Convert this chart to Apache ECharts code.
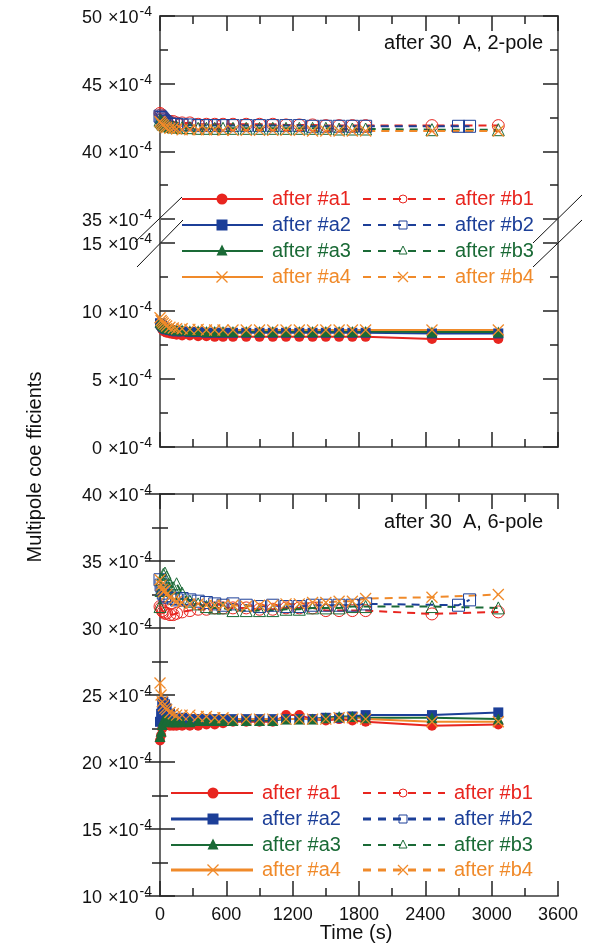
<!DOCTYPE html>
<html>
<head>
<meta charset="utf-8">
<script src="https://cdn.jsdelivr.net/npm/echarts@6/dist/echarts.min.js"></script>
<style>
html,body{margin:0;padding:0;background:#fff;}
#c{width:597px;height:947px;}
</style>
</head>
<body>
<div id="c"></div>
<script>
// ---------- data (values in units of 1e-4) ----------
const seriesNamesA = ['after #a1', 'after #a2', 'after #a3', 'after #a4'];
const seriesNamesB = ['after #b1', 'after #b2', 'after #b3', 'after #b4'];
const xTicks = [0, 600, 1200, 1800, 2400, 3000, 3600];
const panelLabels = ['after 30  A, 2-pole', 'after 30  A, 6-pole'];

const timeS = [0, 10, 20, 30, 45, 60, 90, 120, 150, 200, 270, 345, 420, 495, 570, 660, 780, 900, 1020, 1140, 1260, 1380, 1500, 1620, 1740, 1860, 2460, 3060];
const timeB2 = [0, 10, 20, 30, 45, 60, 90, 120, 150, 200, 270, 345, 420, 495, 570, 660, 780, 900, 1020, 1140, 1260, 1380, 1500, 1620, 1740, 1860, 2700, 2800];

// 2-pole, "b" runs (upper segment)
const pole2_b1 = [42.8, 42.7, 42.6, 42.5, 42.4, 42.3, 42.2, 42.2, 42.1, 42.1, 42.1, 42.0, 42.0, 42.0, 42.0, 42.0, 42.0, 42.0, 42.0, 41.95, 41.95, 41.95, 41.9, 41.9, 41.9, 41.9, 41.9, 41.9];
const pole2_b2 = [42.6, 42.5, 42.4, 42.3, 42.2, 42.1, 42.0, 42.0, 42.0, 41.95, 41.95, 41.9, 41.9, 41.9, 41.9, 41.9, 41.9, 41.9, 41.9, 41.9, 41.9, 41.85, 41.85, 41.85, 41.85, 41.85, 41.85, 41.85];
const pole2_b3 = [42.3, 42.2, 42.1, 42.0, 41.95, 41.9, 41.85, 41.8, 41.8, 41.75, 41.75, 41.7, 41.7, 41.7, 41.7, 41.7, 41.7, 41.7, 41.7, 41.7, 41.7, 41.7, 41.7, 41.65, 41.65, 41.65, 41.6, 41.6];
const pole2_b4 = [42.2, 42.1, 42.0, 41.9, 41.8, 41.75, 41.7, 41.7, 41.65, 41.6, 41.6, 41.6, 41.6, 41.6, 41.55, 41.55, 41.55, 41.55, 41.55, 41.55, 41.55, 41.5, 41.5, 41.5, 41.5, 41.5, 41.5, 41.5];
// 2-pole, "a" runs (lower segment)
const pole2_a1 = [9.0, 8.8, 8.65, 8.55, 8.45, 8.4, 8.35, 8.3, 8.25, 8.2, 8.2, 8.15, 8.15, 8.1, 8.1, 8.1, 8.1, 8.1, 8.1, 8.1, 8.1, 8.1, 8.1, 8.1, 8.1, 8.1, 7.95, 7.95];
const pole2_a2 = [9.1, 9.0, 8.9, 8.8, 8.7, 8.65, 8.6, 8.55, 8.5, 8.5, 8.45, 8.45, 8.4, 8.4, 8.4, 8.4, 8.4, 8.4, 8.4, 8.4, 8.4, 8.4, 8.4, 8.4, 8.4, 8.4, 8.35, 8.35];
const pole2_a3 = [9.2, 9.1, 9.0, 8.9, 8.8, 8.75, 8.7, 8.65, 8.6, 8.6, 8.55, 8.55, 8.5, 8.5, 8.5, 8.5, 8.5, 8.5, 8.5, 8.5, 8.5, 8.5, 8.5, 8.5, 8.5, 8.5, 8.45, 8.45];
const pole2_a4 = [9.5, 9.3, 9.2, 9.1, 9.0, 8.9, 8.8, 8.75, 8.7, 8.7, 8.65, 8.65, 8.6, 8.6, 8.6, 8.6, 8.6, 8.6, 8.6, 8.6, 8.6, 8.6, 8.6, 8.6, 8.6, 8.6, 8.6, 8.6];

// 6-pole, "b" runs
const pole6_b1 = [31.6, 31.5, 31.3, 31.2, 31.1, 31.1, 31.0, 31.0, 31.1, 31.2, 31.3, 31.4, 31.4, 31.5, 31.5, 31.5, 31.5, 31.4, 31.4, 31.5, 31.5, 31.5, 31.3, 31.3, 31.3, 31.3, 31.05, 31.2];
const pole6_b2 = [33.6, 33.2, 32.8, 32.6, 32.4, 32.3, 32.4, 32.2, 32.1, 32.2, 32.1, 32.0, 31.9, 31.8, 31.7, 31.8, 31.7, 31.6, 31.7, 31.6, 31.6, 31.7, 31.7, 31.7, 31.7, 31.8, 31.7, 32.1];
const pole6_b3 = [31.6, 32.8, 33.6, 34.0, 34.1, 33.8, 33.2, 33.0, 33.3, 32.6, 32.0, 31.8, 31.6, 31.5, 31.5, 31.3, 31.3, 31.3, 31.3, 31.4, 31.4, 31.5, 31.5, 31.5, 31.6, 31.6, 31.6, 31.5];
const pole6_b4 = [33.6, 33.2, 32.9, 32.7, 32.8, 32.5, 32.3, 32.1, 32.0, 31.9, 31.8, 31.8, 31.7, 31.7, 31.7, 31.7, 31.6, 31.7, 31.7, 31.8, 31.8, 31.9, 31.9, 32.0, 32.0, 32.2, 32.3, 32.5];
// 6-pole, "a" runs
const pole6_a1 = [21.6, 22.0, 22.5, 22.9, 23.0, 22.8, 22.7, 22.7, 22.7, 22.7, 22.7, 22.7, 22.8, 22.8, 22.9, 23.0, 23.0, 23.0, 23.0, 23.5, 23.5, 23.2, 23.1, 23.2, 23.1, 23.0, 22.7, 22.8];
const pole6_a2 = [23.0, 23.6, 24.3, 24.5, 24.3, 24.0, 23.6, 23.3, 23.2, 23.3, 23.2, 23.2, 23.2, 23.2, 23.2, 23.2, 23.2, 23.2, 23.2, 23.2, 23.2, 23.2, 23.3, 23.3, 23.4, 23.5, 23.5, 23.7];
const pole6_a3 = [21.9, 22.3, 22.8, 23.1, 23.2, 23.1, 23.0, 23.0, 23.0, 23.0, 23.0, 23.1, 23.1, 23.1, 23.1, 23.1, 23.1, 23.1, 23.1, 23.2, 23.2, 23.2, 23.3, 23.4, 23.4, 23.3, 23.3, 23.2];
const pole6_a4 = [25.9, 25.0, 24.5, 24.2, 24.0, 23.9, 23.7, 23.6, 23.5, 23.5, 23.5, 23.4, 23.4, 23.3, 23.3, 23.2, 23.2, 23.2, 23.2, 23.2, 23.2, 23.2, 23.2, 23.3, 23.3, 23.2, 23.0, 23.0];

// ---------- styling ----------
const COLORS = ['#e8251f', '#1c3f98', '#1a6a36', '#f08a2a'];
const XPATH = 'path://M0,0L10,10M10,0L0,10';
const SYM = ['circle', 'rect', 'triangle', XPATH];
const FONT = 'Liberation Sans, Arial, sans-serif';
const AX = '#6a6a6a';

const chart = echarts.init(document.getElementById('c'), null, {renderer: 'canvas'});

function zip(t, v) { return t.map((x, i) => [x, v[i]]); }

function mkSeries(name, times, vals, k, open, xi, yi) {
  const col = COLORS[k];
  const isX = k === 3;
  const itemStyle = (open || isX)
    ? {color: 'rgba(0,0,0,0)', borderColor: col, borderWidth: isX ? 1.3 : 1}
    : {color: col, borderColor: col, borderWidth: 0};
  let size = open ? 12 : 10;
  if (k === 2) size = open ? 12 : 11;
  if (isX) size = 11;
  return {
    type: 'line', name: name,
    xAxisIndex: xi, yAxisIndex: yi,
    data: zip(times, vals),
    symbol: SYM[k], symbolSize: size, showAllSymbol: true,
    lineStyle: {color: col, width: 2, type: open ? [8, 6] : 'solid'},
    itemStyle: itemStyle,
    color: col,
    z: open ? 3 : 4,
    animation: false
  };
}

const yLabel = {
  show: true, margin: 8,
  formatter: v => '{n|' + v + '}{x|×10}{s|-4}',
  rich: {
    n: {fontSize: 18, fontFamily: FONT, color: '#111', verticalAlign: 'bottom', lineHeight: 22},
    x: {fontSize: 18, fontFamily: FONT, color: '#111', verticalAlign: 'bottom', lineHeight: 22, padding: [0, 0, 0, 6]},
    s: {fontSize: 14, fontFamily: FONT, color: '#111', verticalAlign: 'top', lineHeight: 12, padding: [0, 0, 0, 1]}
  }
};

function yAx(grid, min, max, pos, labels) {
  return {
    type: 'value', gridIndex: grid, min: min, max: max, interval: 5, position: pos,
    axisLine: {show: true, lineStyle: {color: AX, width: 2}},
    axisTick: {show: true, inside: true, length: 15, lineStyle: {color: '#222', width: 1.5}},
    minorTick: {show: true, splitNumber: 2, length: 8, lineStyle: {color: '#222', width: 1.5}},
    splitLine: {show: false},
    axisLabel: labels ? yLabel : {show: false}
  };
}
function xAx(grid, pos, labels) {
  return {
    type: 'value', gridIndex: grid, min: 0, max: 3600, interval: 600, position: pos,
    axisLine: {show: true, onZero: false, lineStyle: {color: AX, width: 2}},
    axisTick: {show: true, inside: true, length: 15, lineStyle: {color: '#222', width: 1.5}},
    minorTick: {show: true, splitNumber: 2, length: 8, lineStyle: {color: '#222', width: 1.5}},
    splitLine: {show: false},
    axisLabel: labels ? {show: true, fontSize: 18, fontFamily: FONT, color: '#111', margin: 10,
      formatter: v => (xTicks.indexOf(v) >= 0 ? String(v) : '')} : {show: false}
  };
}

const series = [];
const p2b = [pole2_b1, pole2_b2, pole2_b3, pole2_b4];
const p2a = [pole2_a1, pole2_a2, pole2_a3, pole2_a4];
const p6b = [pole6_b1, pole6_b2, pole6_b3, pole6_b4];
const p6a = [pole6_a1, pole6_a2, pole6_a3, pole6_a4];
for (let k = 0; k < 4; k++) {
  series.push(mkSeries(seriesNamesB[k], k === 1 ? timeB2 : timeS, p2b[k], k, true, 0, 0));
  series.push(mkSeries(seriesNamesA[k], timeS, p2a[k], k, false, 1, 2));
  series.push(mkSeries(seriesNamesB[k], k === 1 ? timeB2 : timeS, p6b[k], k, true, 2, 4));
  series.push(mkSeries(seriesNamesA[k], timeS, p6a[k], k, false, 2, 4));
}

// ---------- graphic: legends, break marks, labels ----------
const graphic = [];
const TF = '20px ' + FONT;
function legendMarker(k, open, cx, cy) {
  const col = COLORS[k];
  const st = open ? {fill: 'none', stroke: col, lineWidth: 1} : {fill: col, stroke: col, lineWidth: 0};
  const r = open ? 4 : 5.5;
  if (k === 0) return {type: 'circle', shape: {cx: cx, cy: cy, r: r}, style: st, z: 100};
  if (k === 1) return {type: 'rect', shape: {x: cx - r, y: cy - r, width: 2 * r, height: 2 * r}, style: st, z: 100};
  if (k === 2) return {type: 'polygon', shape: {points: [[cx, cy - r - 1], [cx + r, cy + r - 1], [cx - r, cy + r - 1]]}, style: st, z: 100};
  const s = open ? 5 : 5.5;
  return {type: 'polyline', shape: {points: [[cx - s, cy - s], [cx + s, cy + s], [cx, cy], [cx + s, cy - s], [cx - s, cy + s]]},
    style: {fill: 'none', stroke: col, lineWidth: 1.3}, z: 100};
}
function addLegend(rows, aX0, aX1, aM, aT, bX0, bX1, bM, bT, thick) {
  for (let k = 0; k < 4; k++) {
    const y = rows[k];
    const col = COLORS[k];
    const w = thick && (k === 1 || k === 3) ? 3 : 2;
    graphic.push({type: 'line', shape: {x1: aX0, y1: y, x2: aX1, y2: y}, style: {stroke: col, lineWidth: w}, z: 99});
    graphic.push(legendMarker(k, false, aM, y));
    graphic.push({type: 'text', x: aT, y: y, style: {text: seriesNamesA[k], fill: col, font: TF, textVerticalAlign: 'middle', textAlign: 'left'}, z: 100});
    graphic.push({type: 'line', shape: {x1: bX0, y1: y, x2: bX1, y2: y}, style: {stroke: col, lineWidth: w, lineDash: [8, 7]}, z: 99});
    graphic.push(legendMarker(k, true, bM, y));
    graphic.push({type: 'text', x: bT, y: y, style: {text: seriesNamesB[k], fill: col, font: TF, textVerticalAlign: 'middle', textAlign: 'left'}, z: 100});
  }
}
addLegend([199, 225, 251, 277], 182, 263, 222, 272, 363, 445, 403, 455, false);
addLegend([793, 819, 845, 870], 171, 253, 213, 262, 363, 445, 403, 454, true);

// axis lines continuing through the break gap
graphic.push({type: 'line', shape: {x1: 160, y1: 218, x2: 160, y2: 244}, style: {stroke: AX, lineWidth: 2}, z: 50});
graphic.push({type: 'line', shape: {x1: 558, y1: 218, x2: 558, y2: 244}, style: {stroke: AX, lineWidth: 2}, z: 50});
// break marks
[[135, 242, 182, 197], [137, 267, 183, 220], [533, 243, 582, 195], [533, 267, 582, 220]].forEach(p => {
  graphic.push({type: 'line', shape: {x1: p[0], y1: p[1], x2: p[2], y2: p[3]}, style: {stroke: '#111', lineWidth: 1}, z: 60});
});
// panel labels
graphic.push({type: 'text', x: 543, y: 43, style: {text: panelLabels[0], fill: '#111', font: TF, textAlign: 'right', textVerticalAlign: 'middle'}, z: 100});
graphic.push({type: 'text', x: 543, y: 522, style: {text: panelLabels[1], fill: '#111', font: TF, textAlign: 'right', textVerticalAlign: 'middle'}, z: 100});
// axis titles
graphic.push({type: 'text', x: 35, y: 467, rotation: Math.PI / 2, style: {text: 'Multipole coe fficients', fill: '#111', font: TF, textAlign: 'center', textVerticalAlign: 'middle'}, z: 100});
graphic.push({type: 'text', x: 356, y: 933, style: {text: 'Time (s)', fill: '#111', font: TF, textAlign: 'center', textVerticalAlign: 'middle'}, z: 100});

const option = {
  animation: false,
  backgroundColor: '#fff',
  grid: [
    {left: 160, right: 39, top: 16, height: 203},
    {left: 160, right: 39, top: 243, height: 204},
    {left: 160, right: 39, top: 494, height: 402}
  ],
  xAxis: [xAx(0, 'top', false), xAx(1, 'bottom', false), xAx(2, 'bottom', true), xAx(2, 'top', false)],
  yAxis: [
    yAx(0, 35, 50, 'left', true), yAx(0, 35, 50, 'right', false),
    yAx(1, 0, 15, 'left', true), yAx(1, 0, 15, 'right', false),
    yAx(2, 10, 40, 'left', true), yAx(2, 10, 40, 'right', false)
  ],
  series: series,
  graphic: graphic
};
chart.setOption(option);
</script>
</body>
</html>
